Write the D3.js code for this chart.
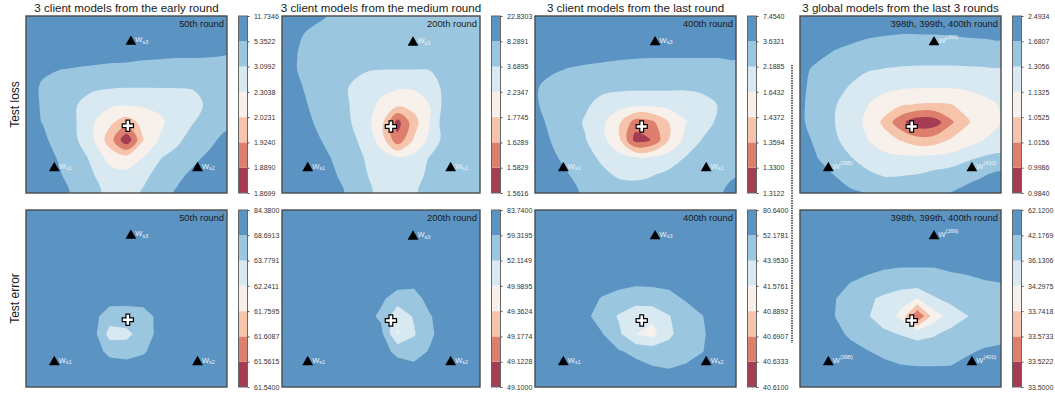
<!DOCTYPE html>
<html>
<head>
<meta charset="utf-8">
<script src="https://cdn.jsdelivr.net/npm/d3@7"></script>
<style>
  body { margin: 0; background: #fff; }
  svg { display: block; font-family: "Liberation Sans", Arial, sans-serif; }
</style>
</head>
<body>
<svg id="chart" width="1055" height="394"></svg>
<script>
// Grid is 13 columns x 11 rows, values are in colour-band units (0 = lowest band, 7 = top of colorbar)
const GRID_W = 13, GRID_H = 11;

const titles = [
  "3 client models from the early round",
  "3 client models from the medium round",
  "3 client models from the last round",
  "3 global models from the last 3 rounds"
];
const roundLabels = ["50th round", "200th round", "400th round", "398th, 399th, 400th round"];
const rowLabels = ["Test loss", "Test error"];

// colorbar tick labels, bottom -> top
const lossTicks50 = [1.8699, 1.8890, 1.9240, 2.0231, 2.3038, 3.0992, 5.3522, 11.7346];
const lossTicks200 = [1.5616, 1.5829, 1.6289, 1.7745, 2.2347, 3.6895, 8.2891, 22.8303];
const lossTicks400 = [1.3122, 1.3300, 1.3594, 1.4372, 1.6432, 2.1885, 3.6321, 7.4540];
const lossTicksGlobal = [0.9840, 0.9986, 1.0156, 1.0525, 1.1325, 1.3056, 1.6807, 2.4934];
const errTicks50 = [61.5400, 61.5615, 61.6087, 61.7595, 62.2411, 63.7791, 68.6913, 84.3800];
const errTicks200 = [49.1000, 49.1228, 49.1774, 49.3624, 49.9895, 52.1149, 59.3195, 83.7400];
const errTicks400 = [40.6100, 40.6333, 40.6907, 40.8892, 41.5761, 43.9530, 52.1781, 80.6400];
const errTicksGlobal = [33.5000, 33.5222, 33.5733, 33.7418, 34.2975, 36.1306, 42.1769, 62.1200];

// band colours, bottom -> top
const bandColors = ["#a43c54", "#de7f6d", "#f5c4ab", "#f8f0ea", "#d9e9f2", "#9ac7df", "#5b93c3"];

// loss surfaces
const loss50 = [
  [7.0, 7.0, 6.9, 6.9, 6.9, 6.8, 6.8, 6.8, 6.8, 6.8, 6.8, 6.8, 6.8],
  [7.0, 6.8, 6.7, 6.6, 6.6, 6.5, 6.5, 6.5, 6.5, 6.4, 6.4, 6.4, 6.4],
  [6.9, 6.7, 6.5, 6.4, 6.35, 6.3, 6.25, 6.2, 6.2, 6.15, 6.12, 6.1, 6.05],
  [6.6, 6.2, 6.02, 5.95, 5.9, 5.85, 5.85, 5.8, 5.75, 5.75, 5.8, 5.8, 5.8],
  [6.5, 5.85, 5.6, 5.4, 5.2, 5.1, 5.05, 5.05, 5.05, 5.05, 5.1, 5.3, 5.5],
  [6.4, 5.9, 5.6, 5.05, 4.5, 4.2, 4.1, 4.15, 4.3, 4.4, 4.6, 5.3, 5.45],
  [6.3, 5.97, 5.6, 5.02, 4.1, 3.2, 2.5, 3.3, 3.8, 4.5, 4.98, 5.4, 5.7],
  [6.6, 6.2, 5.6, 5.1, 4.1, 2.5, 0.2, 2.97, 4.1, 4.8, 5.4, 5.8, 6.3],
  [6.8, 6.4, 5.9, 5.4, 4.8, 3.6, 3.4, 4.02, 4.95, 5.3, 5.8, 6.2, 6.6],
  [6.9, 6.6, 6.1, 5.5, 5.05, 4.5, 4.3, 4.8, 5.3, 5.8, 6.2, 6.5, 6.8],
  [7.0, 6.8, 6.3, 5.8, 5.3, 4.7, 4.6, 5.1, 5.6, 6.1, 6.4, 6.7, 7.0]
];
const loss200 = [
  [6.8, 6.5, 6.2, 5.9, 5.8, 5.75, 5.7, 5.7, 5.7, 5.7, 5.75, 5.8, 5.85],
  [6.6, 6.1, 5.8, 5.6, 5.5, 5.4, 5.35, 5.35, 5.35, 5.35, 5.45, 5.55, 5.65],
  [6.5, 5.98, 5.7, 5.5, 5.3, 5.15, 5.1, 5.1, 5.1, 5.15, 5.3, 5.45, 5.6],
  [6.5, 5.95, 5.65, 5.45, 5.25, 5.1, 5.03, 5.02, 5.02, 5.05, 5.25, 5.4, 5.55],
  [6.6, 6.1, 5.7, 5.4, 5.02, 4.6, 4.3, 4.15, 4.15, 4.6, 5.3, 5.45, 5.6],
  [6.7, 6.25, 5.8, 5.5, 5.05, 4.5, 3.8, 3.3, 3.4, 4.05, 5.5, 5.6, 5.7],
  [6.8, 6.4, 5.95, 5.6, 5.15, 4.4, 3.4, 0.6, 2.6, 4.05, 5.8, 5.7, 5.75],
  [6.9, 6.6, 6.15, 5.75, 5.3, 4.75, 3.6, 1.3, 3.1, 4.3, 5.5, 5.6, 5.7],
  [7.0, 6.7, 6.4, 5.98, 5.5, 4.98, 4.4, 4.1, 4.3, 5.1, 5.5, 5.6, 5.7],
  [7.0, 6.8, 6.5, 6.15, 5.7, 5.1, 4.6, 4.5, 4.7, 5.2, 5.5, 5.6, 5.7],
  [7.0, 6.9, 6.6, 6.3, 5.9, 5.2, 4.8, 4.7, 4.9, 5.3, 5.5, 5.6, 5.7]
];
const loss400 = [
  [7.0, 6.9, 6.9, 6.8, 6.8, 6.8, 6.8, 6.8, 6.8, 6.8, 6.8, 6.8, 6.8],
  [6.9, 6.7, 6.6, 6.55, 6.5, 6.5, 6.5, 6.5, 6.5, 6.5, 6.5, 6.5, 6.5],
  [6.8, 6.6, 6.4, 6.3, 6.25, 6.2, 6.18, 6.15, 6.15, 6.15, 6.15, 6.15, 6.18],
  [6.5, 6.15, 5.97, 5.9, 5.85, 5.8, 5.75, 5.75, 5.75, 5.75, 5.75, 5.75, 5.8],
  [6.1, 5.7, 5.5, 5.35, 5.25, 5.22, 5.2, 5.2, 5.18, 5.15, 5.2, 5.3, 5.5],
  [6.1, 5.7, 5.45, 5.15, 4.7, 4.4, 4.3, 4.3, 4.35, 4.45, 4.7, 5.05, 5.4],
  [6.3, 5.8, 5.45, 4.9, 4.2, 3.2, 1.5, 1.8, 3.02, 3.95, 4.6, 5.2, 5.5],
  [6.5, 5.95, 5.6, 5.05, 4.3, 3.3, 0.6, 1.05, 3.05, 4.3, 5.05, 5.3, 5.6],
  [6.7, 6.15, 5.75, 5.3, 4.85, 4.3, 4.05, 4.1, 4.4, 5.05, 5.35, 5.6, 5.8],
  [6.8, 6.4, 6.03, 5.6, 5.2, 4.9, 4.85, 4.97, 5.3, 5.6, 5.75, 5.85, 5.95],
  [7.0, 6.6, 6.25, 5.85, 5.5, 5.4, 5.35, 5.45, 5.6, 5.8, 5.9, 5.9, 6.3]
];
const lossGlobal = [
  [7.0, 6.9, 6.8, 6.7, 6.6, 6.5, 6.5, 6.5, 6.5, 6.5, 6.5, 6.5, 6.5],
  [6.9, 6.7, 6.5, 6.3, 6.12, 6.05, 6.01, 6.01, 6.02, 6.05, 6.1, 6.12, 6.15],
  [6.7, 6.35, 5.98, 5.8, 5.7, 5.65, 5.6, 5.6, 5.6, 5.6, 5.65, 5.7, 5.75],
  [6.3, 5.8, 5.5, 5.3, 5.1, 4.98, 4.9, 4.85, 4.85, 4.85, 4.88, 4.9, 4.9],
  [6.2, 5.7, 5.3, 4.95, 4.5, 4.3, 4.15, 4.1, 4.1, 4.1, 4.2, 4.35, 4.5],
  [6.15, 5.65, 5.1, 4.6, 4.05, 3.5, 3.15, 2.95, 2.9, 2.97, 3.3, 3.7, 4.1],
  [6.15, 5.65, 5.05, 4.5, 3.8, 2.8, 1.3, 0.3, 0.4, 1.8, 2.9, 3.5, 4.02],
  [6.3, 5.85, 5.2, 4.6, 4.05, 3.4, 2.95, 2.4, 2.5, 3.1, 3.5, 4.02, 4.4],
  [6.45, 6.02, 5.5, 5.05, 4.6, 4.3, 4.2, 4.2, 4.25, 4.35, 4.8, 5.1, 5.2],
  [6.7, 6.35, 6.02, 5.6, 5.2, 4.95, 4.97, 5.05, 5.3, 5.55, 5.8, 5.97, 6.25],
  [6.9, 6.6, 6.35, 6.15, 5.95, 5.6, 5.5, 5.6, 5.8, 6.02, 6.2, 6.4, 6.6]
];

// error surfaces
const err50 = [
  [7.0, 7.0, 6.9, 6.9, 6.9, 6.9, 6.9, 6.9, 6.9, 6.9, 6.9, 7.0, 7.0],
  [7.0, 6.9, 6.8, 6.8, 6.8, 6.8, 6.8, 6.8, 6.8, 6.8, 6.8, 6.9, 7.0],
  [6.9, 6.8, 6.7, 6.7, 6.7, 6.7, 6.7, 6.7, 6.7, 6.7, 6.7, 6.8, 6.9],
  [6.9, 6.8, 6.7, 6.6, 6.6, 6.6, 6.6, 6.6, 6.6, 6.6, 6.7, 6.8, 6.9],
  [6.9, 6.8, 6.7, 6.6, 6.5, 6.5, 6.5, 6.5, 6.5, 6.6, 6.7, 6.8, 6.9],
  [6.9, 6.8, 6.7, 6.6, 6.5, 6.4, 6.3, 6.3, 6.4, 6.5, 6.7, 6.8, 6.9],
  [6.9, 6.8, 6.7, 6.5, 6.3, 5.5, 5.6, 5.7, 6.2, 6.5, 6.7, 6.8, 6.9],
  [6.9, 6.8, 6.7, 6.5, 6.4, 4.6, 4.7, 5.5, 6.3, 6.5, 6.7, 6.8, 6.9],
  [6.9, 6.8, 6.7, 6.6, 6.5, 5.7, 5.6, 5.85, 6.6, 6.6, 6.7, 6.8, 6.9],
  [7.0, 6.9, 6.8, 6.7, 6.7, 6.6, 6.5, 6.7, 6.7, 6.7, 6.8, 6.9, 7.0],
  [7.0, 7.0, 6.9, 6.9, 6.8, 6.8, 6.8, 6.8, 6.8, 6.8, 6.9, 7.0, 7.0]
];
const err200 = [
  [7.0, 6.9, 6.9, 6.9, 6.9, 6.9, 6.9, 6.9, 6.9, 6.9, 6.9, 7.0, 7.0],
  [6.9, 6.8, 6.8, 6.8, 6.8, 6.8, 6.8, 6.8, 6.8, 6.8, 6.8, 6.9, 7.0],
  [6.9, 6.8, 6.7, 6.7, 6.7, 6.7, 6.7, 6.7, 6.7, 6.7, 6.7, 6.8, 6.9],
  [6.9, 6.8, 6.7, 6.6, 6.6, 6.6, 6.6, 6.6, 6.6, 6.6, 6.7, 6.8, 6.9],
  [6.9, 6.8, 6.7, 6.6, 6.6, 6.5, 6.5, 6.5, 6.4, 6.6, 6.7, 6.8, 6.9],
  [6.9, 6.8, 6.7, 6.6, 6.5, 6.4, 6.2, 5.5, 5.5, 6.5, 6.6, 6.8, 6.9],
  [6.9, 6.8, 6.7, 6.6, 6.5, 6.4, 5.8, 4.3, 5.1, 5.95, 6.5, 6.8, 6.9],
  [6.9, 6.8, 6.7, 6.6, 6.5, 6.4, 6.3, 3.9, 4.9, 5.85, 6.5, 6.8, 6.9],
  [6.9, 6.8, 6.7, 6.6, 6.6, 6.5, 6.3, 5.8, 5.6, 6.1, 6.6, 6.8, 6.9],
  [7.0, 6.9, 6.8, 6.7, 6.7, 6.6, 6.5, 6.4, 6.3, 6.5, 6.7, 6.9, 7.0],
  [7.0, 7.0, 6.9, 6.9, 6.8, 6.8, 6.8, 6.8, 6.8, 6.8, 6.9, 7.0, 7.0]
];
const err400 = [
  [7.0, 6.9, 6.9, 6.9, 6.9, 6.9, 6.9, 6.9, 6.9, 6.9, 6.9, 7.0, 7.0],
  [6.9, 6.8, 6.8, 6.8, 6.8, 6.8, 6.8, 6.8, 6.8, 6.8, 6.8, 6.9, 7.0],
  [6.9, 6.8, 6.7, 6.7, 6.7, 6.6, 6.6, 6.6, 6.6, 6.7, 6.7, 6.8, 6.9],
  [6.9, 6.8, 6.7, 6.6, 6.5, 6.5, 6.45, 6.45, 6.5, 6.6, 6.7, 6.8, 6.9],
  [6.9, 6.8, 6.6, 6.5, 6.4, 6.3, 6.2, 6.25, 6.3, 6.4, 6.5, 6.7, 6.8],
  [6.8, 6.7, 6.5, 6.3, 5.95, 5.7, 5.55, 5.55, 5.7, 6.1, 6.4, 6.6, 6.8],
  [6.8, 6.7, 6.5, 6.2, 5.6, 4.9, 4.2, 4.3, 4.95, 5.5, 5.98, 6.4, 6.7],
  [6.8, 6.7, 6.6, 6.5, 6.05, 5.2, 4.02, 3.6, 4.8, 5.5, 5.9, 6.4, 6.7],
  [6.9, 6.8, 6.7, 6.6, 6.6, 6.1, 5.75, 5.6, 5.4, 5.6, 5.97, 6.5, 6.8],
  [7.0, 6.9, 6.8, 6.7, 6.7, 6.6, 6.4, 6.1, 6.02, 6.2, 6.5, 6.7, 6.9],
  [7.0, 7.0, 6.9, 6.9, 6.8, 6.8, 6.8, 6.7, 6.7, 6.7, 6.8, 7.0, 7.0]
];
const errGlobal = [
  [7.0, 6.9, 6.9, 6.9, 6.9, 6.9, 6.9, 6.9, 6.9, 6.9, 6.9, 7.0, 7.0],
  [6.9, 6.8, 6.8, 6.8, 6.7, 6.7, 6.7, 6.7, 6.7, 6.7, 6.8, 6.8, 6.9],
  [6.9, 6.8, 6.7, 6.6, 6.5, 6.4, 6.4, 6.4, 6.4, 6.5, 6.6, 6.7, 6.8],
  [6.8, 6.7, 6.6, 6.45, 6.3, 6.15, 6.1, 6.1, 6.1, 6.2, 6.3, 6.4, 6.5],
  [6.7, 6.6, 6.3, 6.05, 5.85, 5.75, 5.7, 5.7, 5.7, 5.8, 5.85, 5.98, 6.05],
  [6.6, 6.4, 6.1, 5.5, 5.2, 4.8, 4.3, 3.98, 4.9, 5.3, 5.5, 5.6, 5.6],
  [6.6, 6.5, 6.05, 5.4, 5.1, 4.5, 3.8, 0.95, 3.5, 4.4, 4.98, 5.5, 5.6],
  [6.7, 6.6, 6.2, 5.9, 5.5, 5.2, 4.95, 4.7, 4.9, 5.3, 5.5, 5.6, 5.7],
  [6.8, 6.7, 6.5, 6.2, 6.05, 5.8, 5.6, 5.5, 5.5, 5.6, 5.9, 6.1, 6.2],
  [6.9, 6.8, 6.7, 6.6, 6.5, 6.3, 6.15, 6.1, 6.1, 6.1, 6.3, 6.5, 6.6],
  [7.0, 6.9, 6.9, 6.8, 6.8, 6.7, 6.6, 6.6, 6.6, 6.6, 6.7, 6.8, 6.9]
];

// model positions in grid units [col, row]
const modelPos50 = [[1.69, 8.59], [10.24, 8.59], [6.26, 1.45]];
const modelPos200 = [[1.56, 8.59], [10.22, 8.59], [7.94, 1.5]];
const modelPos400 = [[1.69, 8.59], [10.22, 8.59], [7.17, 1.48]];
const modelPosGlobal = [[1.69, 8.59], [10.26, 8.59], [8.0, 1.48]];
const avgPos = [[6.08, 6.2], [6.6, 6.24], [6.37, 6.24], [6.67, 6.24]];
const clientNames = ["s1", "s2", "s3"];
const globalNames = ["(398)", "(400)", "(399)"];

const colLeft = [26, 282, 535, 800];
const colRight = [227, 480, 736, 1001];
const rowTop = [16, 210];
const rowBottom = [193, 387];
const cbWidth = 9;

const svg = d3.select("#chart");

const panels = [
  { row: 0, col: 0, grid: loss50, ticks: lossTicks50, pos: modelPos50 },
  { row: 0, col: 1, grid: loss200, ticks: lossTicks200, pos: modelPos200 },
  { row: 0, col: 2, grid: loss400, ticks: lossTicks400, pos: modelPos400 },
  { row: 0, col: 3, grid: lossGlobal, ticks: lossTicksGlobal, pos: modelPosGlobal },
  { row: 1, col: 0, grid: err50, ticks: errTicks50, pos: modelPos50 },
  { row: 1, col: 1, grid: err200, ticks: errTicks200, pos: modelPos200 },
  { row: 1, col: 2, grid: err400, ticks: errTicks400, pos: modelPos400 },
  { row: 1, col: 3, grid: errGlobal, ticks: errTicksGlobal, pos: modelPosGlobal }
];

panels.forEach(drawPanel);

function drawPanel(p) {
  const x0 = colLeft[p.col], x1 = colRight[p.col];
  const y0 = rowTop[p.row], y1 = rowBottom[p.row];

  // grid sample index -> pixel
  const x = d3.scaleLinear().domain([0, GRID_W - 1]).range([x0, x1]);
  const y = d3.scaleLinear().domain([0, GRID_H - 1]).range([y0, y1]);

  const contours = d3.contours()
    .size([GRID_W, GRID_H])
    .thresholds(d3.range(0, 7))(p.grid.flat());

  const clipId = "clip-" + p.row + "-" + p.col;
  svg.append("clipPath").attr("id", clipId)
    .append("rect")
    .attr("x", x0).attr("y", y0)
    .attr("width", x1 - x0).attr("height", y1 - y0);

  // contour coords have samples at i + 0.5
  const line = d3.line()
    .x(d => x(d[0] - 0.5))
    .y(d => y(d[1] - 0.5))
    .curve(p.row === 0 ? d3.curveCatmullRomClosed.alpha(0.5) : d3.curveLinearClosed);

  svg.append("g")
    .attr("clip-path", "url(#" + clipId + ")")
    .selectAll("path")
    .data(contours)
    .join("path")
    .attr("fill", c => bandColors[c.value])
    .attr("fill-rule", "evenodd")
    .attr("d", c => c.coordinates
      .map(poly => poly.map(ring => line(ring.slice(0, -1))).join(""))
      .join(""));

  // frame
  svg.append("rect")
    .attr("x", x0).attr("y", y0)
    .attr("width", x1 - x0).attr("height", y1 - y0)
    .attr("fill", "none")
    .attr("stroke", "#4a4a4a")
    .attr("stroke-width", 1.4);

  // round label
  svg.append("text")
    .attr("x", x1 - 3).attr("y", y0 + 11)
    .attr("text-anchor", "end")
    .attr("fill", "#1a1a1a")
    .style("font-size", "9.4px")
    .text(roundLabels[p.col]);

  // model markers
  const names = p.col === 3 ? globalNames : clientNames;
  const markers = svg.append("g");
  markers.selectAll("path.tri")
    .data(p.pos)
    .join("path")
    .attr("class", "tri")
    .attr("transform", d => "translate(" + x(d[0]) + "," + y(d[1]) + ")")
    .attr("d", d3.symbol(d3.symbolTriangle, 50))
    .attr("fill", "#000");

  p.pos.forEach((d, i) => {
    const t = markers.append("text")
      .attr("x", x(d[0]) + 4.5)
      .attr("y", y(d[1]) + 0.5)
      .attr("fill", "#eef2f6")
      .style("font-size", "7.5px")
      .text("W");
    t.append("tspan")
      .attr("dy", p.col === 3 ? -3.5 : 1.8)
      .style("font-size", "5.5px")
      .text(names[i]);
  });

  markers.append("path")
    .attr("transform", "translate(" + x(avgPos[p.col][0]) + "," + y(avgPos[p.col][1]) + ")")
    .attr("d", d3.symbol(d3.symbolCross, 70))
    .attr("fill", "#fff")
    .attr("stroke", "#000")
    .attr("stroke-width", 1.2);

  // colorbar
  const cbX = x1 + 11.5;
  const cy = d3.scaleLinear().domain([0, 7]).range([y1, y0]);
  const cb = svg.append("g");
  cb.selectAll("rect.band")
    .data(d3.range(7))
    .join("rect")
    .attr("class", "band")
    .attr("x", cbX).attr("width", cbWidth)
    .attr("y", k => cy(k + 1))
    .attr("height", k => cy(k) - cy(k + 1))
    .attr("fill", k => bandColors[k]);
  cb.append("rect")
    .attr("x", cbX).attr("y", y0)
    .attr("width", cbWidth).attr("height", y1 - y0)
    .attr("fill", "none")
    .attr("stroke", "#666")
    .attr("stroke-width", 1);

  const axis = cb.append("g")
    .attr("transform", "translate(" + (cbX + cbWidth) + ",0)")
    .call(d3.axisRight(cy)
      .tickValues(d3.range(8))
      .tickFormat(i => p.ticks[i].toFixed(4))
      .tickSize(2)
      .tickPadding(4.5));
  axis.select(".domain").remove();
  axis.selectAll("line").attr("stroke", "#555");
  axis.selectAll("text")
    .attr("fill", "#333")
    .style("font-family", "\"Liberation Sans\", Arial, sans-serif")
    .style("font-size", "7px");
}

// column titles
svg.selectAll("text.title")
  .data(titles)
  .join("text")
  .attr("class", "title")
  .attr("x", (d, i) => (colLeft[i] + colRight[i]) / 2)
  .attr("y", 11.5)
  .attr("text-anchor", "middle")
  .attr("fill", "#1a1a1a")
  .style("font-size", "11.6px")
  .text(d => d);

// row labels
svg.selectAll("text.rowlabel")
  .data(rowLabels)
  .join("text")
  .attr("class", "rowlabel")
  .attr("transform", (d, i) => "translate(19," + (rowTop[i] + rowBottom[i]) / 2 + ") rotate(-90)")
  .attr("text-anchor", "middle")
  .attr("fill", "#1a1a1a")
  .style("font-size", "12px")
  .text(d => d);

// dotted separator
svg.append("line")
  .attr("x1", 792).attr("x2", 792)
  .attr("y1", 65).attr("y2", 343)
  .attr("stroke", "#333")
  .attr("stroke-width", 1.5)
  .attr("stroke-dasharray", "1.5,1");
</script>
</body>
</html>
